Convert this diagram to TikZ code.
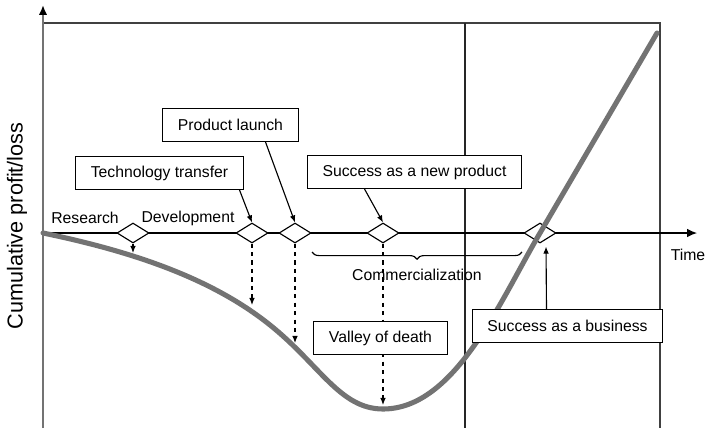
\documentclass[tikz,border=0pt]{standalone}
\usepackage{fontspec}
\setmainfont{Liberation Sans}
\usetikzlibrary{shapes.geometric,arrows.meta,calc,decorations.pathreplacing}
\tikzset{
	tag/.style = {
		shape=rectangle,
		draw,
		thick,
		fill=white,
		inner xsep=0.38cm,
		minimum height=0.82cm,
		font=\fontsize{11.2}{13}\selectfont
	},
	gate/.style = {
		shape=diamond,
		draw,
		thick,
		fill=white,
		inner sep=0pt,
		minimum width=0.8cm,
		minimum height=0.5cm
	},
	lbl/.style = {font=\fontsize{11.2}{13}\selectfont},
	pointer/.style = {thick, -{Latex[length=5pt,width=4pt]}},
	drop/.style = {thick, dashed, -{Latex[length=5pt,width=4pt]}}
}

\begin{document}
\begin{tikzpicture}[x=0.025cm, y=-0.025cm]
		\useasboundingbox (0,0) rectangle (708,428);
		% frame
		\draw[line width=1.1pt, black!75] (43,23) -- (660,23) -- (660,428);
		\draw[thick, black!85] (465,23) -- (465,428);
		% axes
		\draw[line width=2pt, black!55, -{Latex[length=7pt,width=6pt,black]}] (43,428) -- (43,5);
		\draw[thick, -{Latex[length=7pt,width=6pt]}] (43,233) -- (697,233);
		\node[rotate=90, font=\fontsize{15.4}{17}\selectfont] (ylab) at (17,226) {Cumulative profit/loss};
		\node[lbl] (time) at (688,255) {Time};
		\node[lbl] (research) at (85,218) {Research};
		\node[lbl] (develop) at (188,218) {Development};
		% stage gates
		\node[gate] (d1) at (133,233) {};
		\node[gate] (d2) at (252,233) {};
		\node[gate] (d3) at (295,233) {};
		\node[gate] (d4) at (383,233) {};
		\node[gate] (d5) at (540,233) {};
		% points on the curve
		\coordinate (c1) at (133,253);
		\coordinate (c2) at (252,305);
		\coordinate (c3) at (295,343);
		\coordinate (c4) at (383,405);
		\draw[drop] (d1.south) -- (c1);
		\draw[drop] (d2.south) -- (c2);
		\draw[drop] (d3.south) -- (c3);
		\draw[drop] (d4.south) -- (c4);
		% cumulative profit/loss
		\draw[line width=3.6pt, black!55, line cap=round] (43,233)
			.. controls (150,255) and (220,285) .. (270,325)
			.. controls (320,365) and (340,409) .. (383,409)
			.. controls (455,409) and (500,301) .. (540,233)
			-- (657,33);
		% commercialization
		\coordinate (cs) at (312,252);
		\coordinate (ce) at (522,252);
		\draw[thick, decorate, decoration={brace, mirror, amplitude=0.18cm}] (cs) -- (ce);
		\node[lbl] (comm) at (417,275) {Commercialization};
		% milestones
		\node[tag] (transfer) at (159.5,173) {Technology transfer};
		\node[tag] (launch) at (230.5,125) {Product launch};
		\node[tag] (newprod) at (414.5,172) {Success as a new product};
		\node[tag] (valley) at (380.5,338) {Valley of death};
		\node[tag] (business) at (567.5,326) {Success as a business};
		\draw[pointer] ($(transfer.south)+(80,0)$) -- (d2.north);
		\draw[pointer] ($(launch.south)+(35,0)$) -- (d3.north);
		\draw[pointer] ($(newprod.south)+(-50,0)$) -- (d4.north);
		\draw[pointer] ($(business.north)+(-21,0)$) -- ($(d5.south)+(6,3)$);
		\end{tikzpicture}
\end{document}
